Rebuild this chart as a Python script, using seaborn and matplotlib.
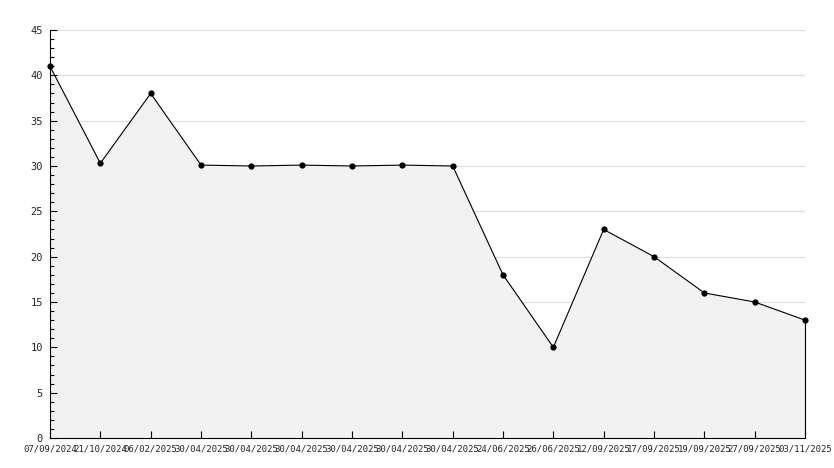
import matplotlib
matplotlib.use("Agg")
import matplotlib.pyplot as plt
import seaborn as sns
import pandas as pd
from matplotlib.ticker import MultipleLocator

# data
dates = ["07/09/2024", "21/10/2024", "06/02/2025", "30/04/2025", "30/04/2025",
         "30/04/2025", "30/04/2025", "30/04/2025", "30/04/2025", "24/06/2025",
         "26/06/2025", "12/09/2025", "17/09/2025", "19/09/2025", "27/09/2025",
         "03/11/2025"]
values = [41, 30.3, 38, 30.1, 30, 30.1, 30, 30.1, 30, 18, 10, 23, 20, 16, 15, 13]

df = pd.DataFrame({"idx": range(len(values)), "value": values})

sns.set_style("white")
plt.rcParams["font.family"] = ["DejaVu Sans Mono"]

fig = plt.figure(figsize=(8.34, 4.68), dpi=100)
ax = fig.add_axes([50 / 834, 30 / 468, 755 / 834, 408 / 468])

# grid behind the fill, ticks above it
for g in range(5, 50, 5):
    ax.axhline(g, color="#dddddd", lw=0.8, zorder=0.2)
ax.fill_between(df["idx"], df["value"], 0, color="#f2f2f2", zorder=1)
ax.plot([df["idx"].iloc[-1]] * 2, [0, df["value"].iloc[-1]], color="black", lw=0.8,
        zorder=2, clip_on=False)
sns.lineplot(data=df, x="idx", y="value", ax=ax, color="black", lw=0.8,
             marker="o", markersize=4.5, markeredgewidth=0, zorder=3, clip_on=False)

ax.set_xlim(0, len(values) - 1)
ax.set_ylim(0, 45)
ax.yaxis.set_major_locator(MultipleLocator(5))
ax.yaxis.set_minor_locator(MultipleLocator(1))
ax.grid(False)
ax.set_axisbelow(False)

ax.set_xticks(df["idx"])
ax.set_xticklabels(dates)
ax.tick_params(axis="x", direction="in", length=5, width=0.8, labelsize=6.5, pad=5, color="black")
ax.tick_params(axis="y", which="major", direction="in", length=5, width=0.8, labelsize=7.5, pad=5, color="black")
ax.tick_params(axis="y", which="minor", direction="in", length=3, width=0.8, color="black")
ax.tick_params(left=True, bottom=True, which="both")

for s in ["top", "right"]:
    ax.spines[s].set_visible(False)
for s in ["left", "bottom"]:
    ax.spines[s].set_color("black")
    ax.spines[s].set_linewidth(0.8)

ax.set_xlabel("")
ax.set_ylabel("")

fig.savefig("out.png", dpi=100)
